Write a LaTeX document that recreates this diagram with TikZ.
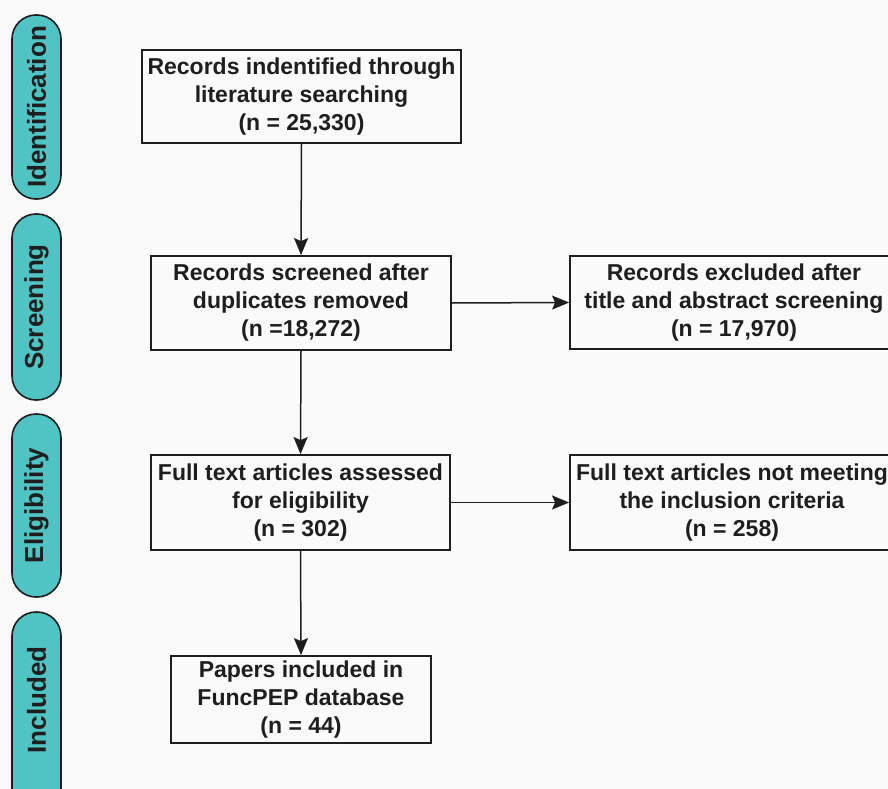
\documentclass[tikz,border=0pt]{standalone}
\usepackage{fontspec}
\setmainfont{Liberation Sans}
\usetikzlibrary{arrows.meta}
\definecolor{bar}{RGB}{80,196,196}
\definecolor{ink}{RGB}{30,30,30}
\tikzset{
  box/.style={draw=ink, line width=1.8pt, align=center, inner sep=0pt,
    font=\fontsize{23}{28}\selectfont\bfseries, text=ink},
  sidebar/.style={draw=ink, line width=1.6pt, fill=bar, rounded corners=24pt},
  sidelabel/.style={rotate=90, font=\fontsize{26}{30}\selectfont\bfseries, text=ink},
  conn/.style={draw=ink, line width=1.5pt, -{Stealth[length=17pt,width=14pt,inset=3pt]}}
}
\begin{document}
\begin{tikzpicture}[x=1pt,y=-1pt]
\clip (0,0) rectangle (888,789);
\fill[white!98!black] (0,0) rectangle (888,789);
% side bars
\draw[sidebar] (12,15) rectangle (61,199);
\node[sidelabel] (lid) at (36.5,107) {Identification};
\draw[sidebar] (12,214) rectangle (61,400);
\node[sidelabel] (lsc) at (36.5,307) {Screening};
\draw[sidebar] (12,414) rectangle (61,597);
\node[sidelabel] (lel) at (36.5,505.5) {Eligibility};
\draw[sidebar] (12,612) rectangle (61,815);
\node[sidelabel] (lin) at (36.5,700) {Included};
% boxes
\node[box, minimum width=319pt, minimum height=93pt] (b1) at (301.5,96.5)
  {Records indentified through\\literature searching\\(n = 25,330)};
\node[box, minimum width=300pt, minimum height=94pt] (b2) at (301,303)
  {Records screened after\\duplicates removed\\(n =18,272)};
\node[box, minimum width=328pt, minimum height=93pt] (b3) at (734,302.5)
  {Records excluded after\\title and abstract screening\\(n = 17,970)};
\node[box, minimum width=299pt, minimum height=95pt] (b4) at (300.5,502.5)
  {Full text articles assessed\\for eligibility\\(n = 302)};
\node[box, minimum width=324pt, minimum height=95pt] (b5) at (732,502.5)
  {Full text articles not meeting\\the inclusion criteria\\(n = 258)};
\node[box, minimum width=260pt, minimum height=87pt] (b6) at (301,699.5)
  {Papers included in\\FuncPEP database\\(n = 44)};
% connectors
\draw[conn] (b1.south) -- (b2.north);
\draw[conn] (b2.east) -- (b3.west);
\draw[conn] (b2.south) -- (b4.north);
\draw[conn] (b4.east) -- (b5.west);
\draw[conn] (b4.south) -- (b6.north);
\end{tikzpicture}
\end{document}
